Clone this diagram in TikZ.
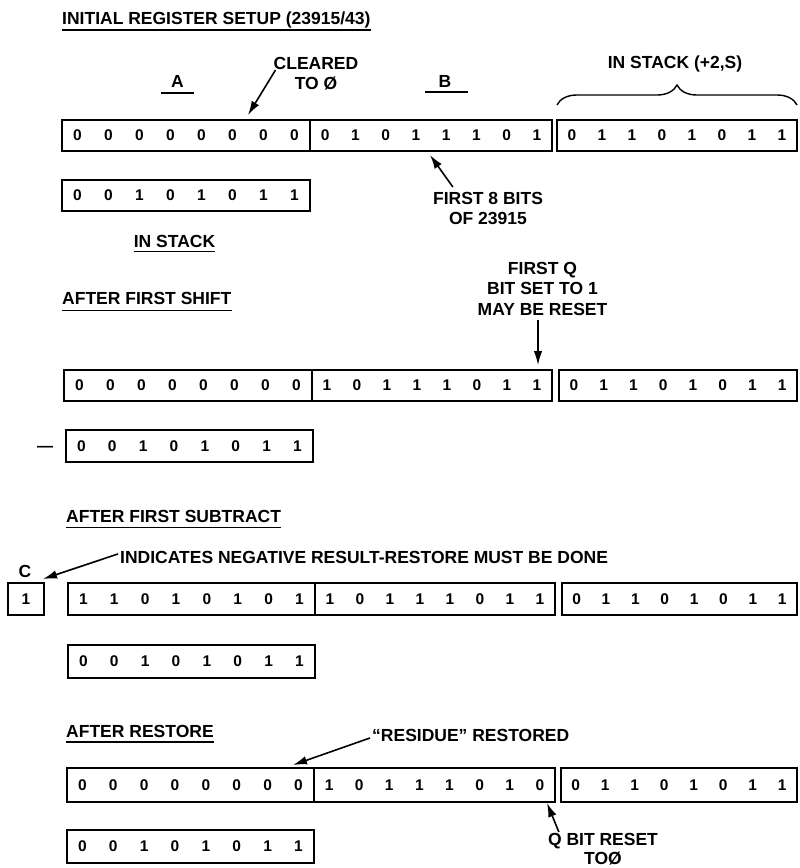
\documentclass[tikz,border=0pt]{standalone}
\usepackage{fontspec}
\setmainfont{Liberation Sans}
\usetikzlibrary{positioning,calc,arrows.meta,decorations.pathreplacing}
% one register: eight bits spread evenly over the box width
\newcommand{\bits}[2]{\hbox to #1{\foreach \bitv in {#2}{\hss\bitv\hss}}}

\begin{document}
\begin{tikzpicture}[x=1pt, y=-1pt,
  font=\fontsize{17.5}{20.5}\selectfont\bfseries,
  reg/.style={draw, line width=1.8pt, inner sep=0pt, outer sep=0pt, minimum height=#1, anchor=north west,
    font=\fontsize{15.5}{18}\selectfont\bfseries},
  reg/.default=32pt,
  lbl/.style={inner sep=0pt},
  uline/.style={line width=1.8pt},
  arr/.style={line width=1.6pt, -{Latex[length=14pt,width=8.5pt]}},
  brc/.style={decorate, decoration={brace, amplitude=20pt}, line width=1.4pt}]
\useasboundingbox (0,0) rectangle (800,868);

% initial register setup
\node[lbl, anchor=base west] (hd1) at (62,24) {INITIAL REGISTER SETUP (23915/43)};
\draw[uline] ([yshift=-6pt]hd1.base west) -- ([yshift=-6pt]hd1.base east);
\node[lbl, anchor=base] (la) at (177.5,87) {A};
\draw[uline] ([xshift=-16.5pt,yshift=-6pt]la.base) -- ([xshift=16.5pt,yshift=-6pt]la.base);
\node[lbl, anchor=base] (lb) at (445,87) {B};
\draw[uline] ([xshift=-20pt,yshift=-5pt]lb.base) -- ([xshift=23pt,yshift=-5pt]lb.base);
\node[lbl, align=center, anchor=north] (clr) at (316,57) {CLEARED\\TO Ø};
\node[lbl, anchor=base] (stk) at (675,68) {IN STACK (+2,S)};

\node[reg=31pt] (a1) at (62,120) {\bits{248pt}{0,0,0,0,0,0,0,0}};
\node[reg=31pt, right=0pt of a1] (b1) {\bits{242pt}{0,1,0,1,1,1,0,1}};
\node[reg=31pt, right=5pt of b1] (s1) {\bits{240pt}{0,1,1,0,1,0,1,1}};
\draw[brc] ([yshift=15pt]s1.north west) -- ([yshift=15pt]s1.north east);
\node[reg=31pt] (m1) at (62,180) {\bits{248pt}{0,0,1,0,1,0,1,1}};

\node[lbl, align=center, anchor=north] (f8) at (488,192) {FIRST 8 BITS\\OF 23915};
\node[lbl, anchor=base] (ins) at (174.5,247) {IN STACK};
\draw[uline] ([yshift=-4.5pt]ins.base west) -- ([yshift=-4.5pt]ins.base east);

\coordinate (clr-tip) at (248,115);
\draw[arr] ([shift={(2,13)}]clr.north west) -- (clr-tip);
\coordinate (f8-tip) at (430,155);
\draw[arr] ([shift={(20,-5)}]f8.north west) -- (f8-tip);

% after first shift
\node[lbl, anchor=base west] (hd2) at (62,304.5) {AFTER FIRST SHIFT};
\draw[uline] ([yshift=-6pt]hd2.base west) -- ([yshift=-6pt]hd2.base east);
\node[lbl, align=center, anchor=north] (fq) at (542.5,262) {FIRST Q\\BIT SET TO 1\\MAY BE RESET};

\node[reg=31pt] (a2) at (64,370) {\bits{248pt}{0,0,0,0,0,0,0,0}};
\node[reg=31pt, right=0pt of a2] (b2) {\bits{240pt}{1,0,1,1,1,0,1,1}};
\node[reg=31pt, right=7pt of b2] (s2) {\bits{238pt}{0,1,1,0,1,0,1,1}};
\coordinate (fq-tip) at (538,365);
\draw[arr] ($(fq.south -| fq-tip)+(0,4)$) -- (fq-tip);

\node[lbl, anchor=base, font=\fontsize{16}{16}\selectfont\bfseries] (minus) at (45,451.5) {---};
\node[reg=32pt] (m2) at (66,430) {\bits{247pt}{0,0,1,0,1,0,1,1}};

% after first subtract
\node[lbl, anchor=base west] (hd3) at (66,522) {AFTER FIRST SUBTRACT};
\draw[uline] ([yshift=-5.5pt]hd3.base west) -- ([yshift=-5.5pt]hd3.base east);
\node[lbl, anchor=base west] (ind) at (120,563) {INDICATES NEGATIVE RESULT-RESTORE MUST BE DONE};
\node[lbl, anchor=base] (lc) at (25,577) {C};

\node[reg=32pt, minimum width=36pt] (c3) at (8,583) {1};
\node[reg=32pt] (a3) at (68,583) {\bits{247pt}{1,1,0,1,0,1,0,1}};
\node[reg=32pt, right=0pt of a3] (b3) {\bits{240pt}{1,0,1,1,1,0,1,1}};
\node[reg=32pt, right=7pt of b3] (s3) {\bits{235pt}{0,1,1,0,1,0,1,1}};
\coordinate (ind-tip) at (43,579);
\draw[arr] ([shift={(-2,-3)}]ind.west) -- (ind-tip);

\node[reg=33pt] (m3) at (68,645) {\bits{247pt}{0,0,1,0,1,0,1,1}};

% after restore
\node[lbl, anchor=base west] (hd4) at (66,737) {AFTER RESTORE};
\draw[uline] ([yshift=-5pt]hd4.base west) -- ([yshift=-5pt]hd4.base east);
\node[lbl, anchor=base west] (res) at (372,741) {``RESIDUE'' RESTORED};

\node[reg=34pt] (a4) at (67,768) {\bits{247pt}{0,0,0,0,0,0,0,0}};
\node[reg=34pt, right=0pt of a4] (b4) {\bits{241pt}{1,0,1,1,1,0,1,0}};
\node[reg=34pt, right=6pt of b4] (s4) {\bits{236pt}{0,1,1,0,1,0,1,1}};
\coordinate (res-tip) at (293,765);
\draw[arr] ([shift={(-2,3)}]res.west) -- (res-tip);

\node[reg=33pt] (m4) at (67,830) {\bits{247pt}{0,0,1,0,1,0,1,1}};
\node[lbl, align=center, anchor=north, font=\fontsize{17.5}{19}\selectfont\bfseries] (qr) at (603,833) {Q BIT RESET\\TOØ};
\coordinate (qr-tip) at (547,803);
\draw[arr] ([shift={(11,-1)}]qr.north west) -- (qr-tip);
\end{tikzpicture}
\end{document}
